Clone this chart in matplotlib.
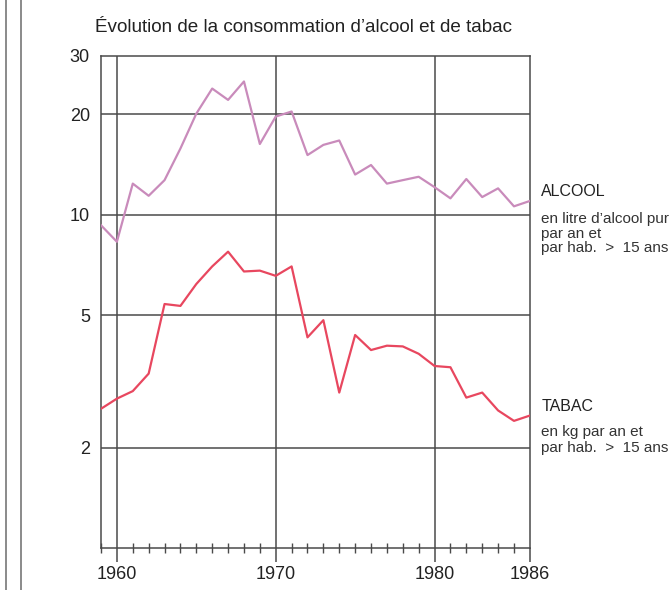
import matplotlib
matplotlib.use("Agg")
import matplotlib.pyplot as plt
from matplotlib.lines import Line2D
from matplotlib.ticker import FixedLocator, NullFormatter

plt.rcParams["font.family"] = ["Liberation Sans", "DejaVu Sans"]

years = list(range(1959, 1987))
alcool = [9.3, 8.3, 12.4, 11.4, 12.7, 15.8, 20.1, 23.9, 22.1, 25.1, 16.3, 19.7, 20.4, 15.1,
          16.2, 16.7, 13.2, 14.1, 12.4, 12.7, 13.0, 12.1, 11.2, 12.8, 11.3, 12.0, 10.6, 11.0]
tabac = [2.62, 2.81, 2.96, 3.34, 5.4, 5.33, 6.2, 7.0, 7.75, 6.76, 6.8, 6.56, 7.0, 4.29,
         4.83, 2.93, 4.36, 3.93, 4.05, 4.03, 3.83, 3.52, 3.49, 2.83, 2.93, 2.59, 2.41, 2.50]

y_ticks = [2, 5, 10, 20, 30]
x_ticks = [1960, 1970, 1980, 1986]
x_grid = [1960, 1970, 1980]

title = "Évolution de la consommation d\u2019alcool et de tabac"

col_alc = "#c98bbb"
col_tab = "#e8475f"
col_grid = "#4a4a4a"

fig = plt.figure(figsize=(6.69, 5.9), dpi=100)
ax = fig.add_axes([0.151, 0.0707, 0.641, 0.835])

ax.set_yscale("log")
ax.set_ylim(1, 30)
ax.set_xlim(1959, 1986)

for y in y_ticks[:-1]:
    ax.axhline(y, color=col_grid, lw=1.1, zorder=1)
for x in x_grid:
    ax.axvline(x, color=col_grid, lw=1.1, zorder=1)

ax.plot(years, alcool, color=col_alc, lw=1.6, zorder=3)
ax.plot(years, tabac, color=col_tab, lw=1.6, zorder=3)

for s in ax.spines.values():
    s.set_color(col_grid)
    s.set_linewidth(1.1)

ax.yaxis.set_major_locator(FixedLocator(y_ticks))
ax.yaxis.set_minor_locator(FixedLocator([]))
ax.set_yticklabels([str(v) for v in y_ticks])
ax.yaxis.set_minor_formatter(NullFormatter())
ax.tick_params(axis="y", length=0, pad=8, labelsize=13, labelcolor="#222222")

ax.set_xticks(x_ticks)
ax.set_xticklabels([str(v) for v in x_ticks])
ax.xaxis.set_minor_locator(FixedLocator(years))
ax.tick_params(axis="x", which="major", direction="out", length=10, width=1.1,
               color=col_grid, pad=3, labelsize=13, labelcolor="#222222")
ax.tick_params(axis="x", which="minor", direction="inout", length=7, width=1.0,
               color=col_grid)

fig.text(0.142, 0.953, title, fontsize=13.6, color="#222222", ha="left", va="center")

# labels on the right
fig.text(0.809, 0.675, "ALCOOL", fontsize=11.5, color="#222222", va="center")
fig.text(0.809, 0.628, "en litre d\u2019alcool pur", fontsize=11, color="#333333", va="center")
fig.text(0.809, 0.604, "par an et", fontsize=11, color="#333333", va="center")
fig.text(0.809, 0.580, "par hab.  >  15 ans", fontsize=11, color="#333333", va="center")

fig.text(0.809, 0.311, "TABAC", fontsize=11.5, color="#222222", va="center")
fig.text(0.809, 0.268, "en kg par an et", fontsize=11, color="#333333", va="center")
fig.text(0.809, 0.241, "par hab.  >  15 ans", fontsize=11, color="#333333", va="center")

# page border lines on the far left
for xp in (5.5, 20.5):
    fig.add_artist(Line2D([xp / 669, xp / 669], [0, 1], transform=fig.transFigure,
                          color="#777777", lw=1.2))

fig.savefig("out.png", dpi=100)
